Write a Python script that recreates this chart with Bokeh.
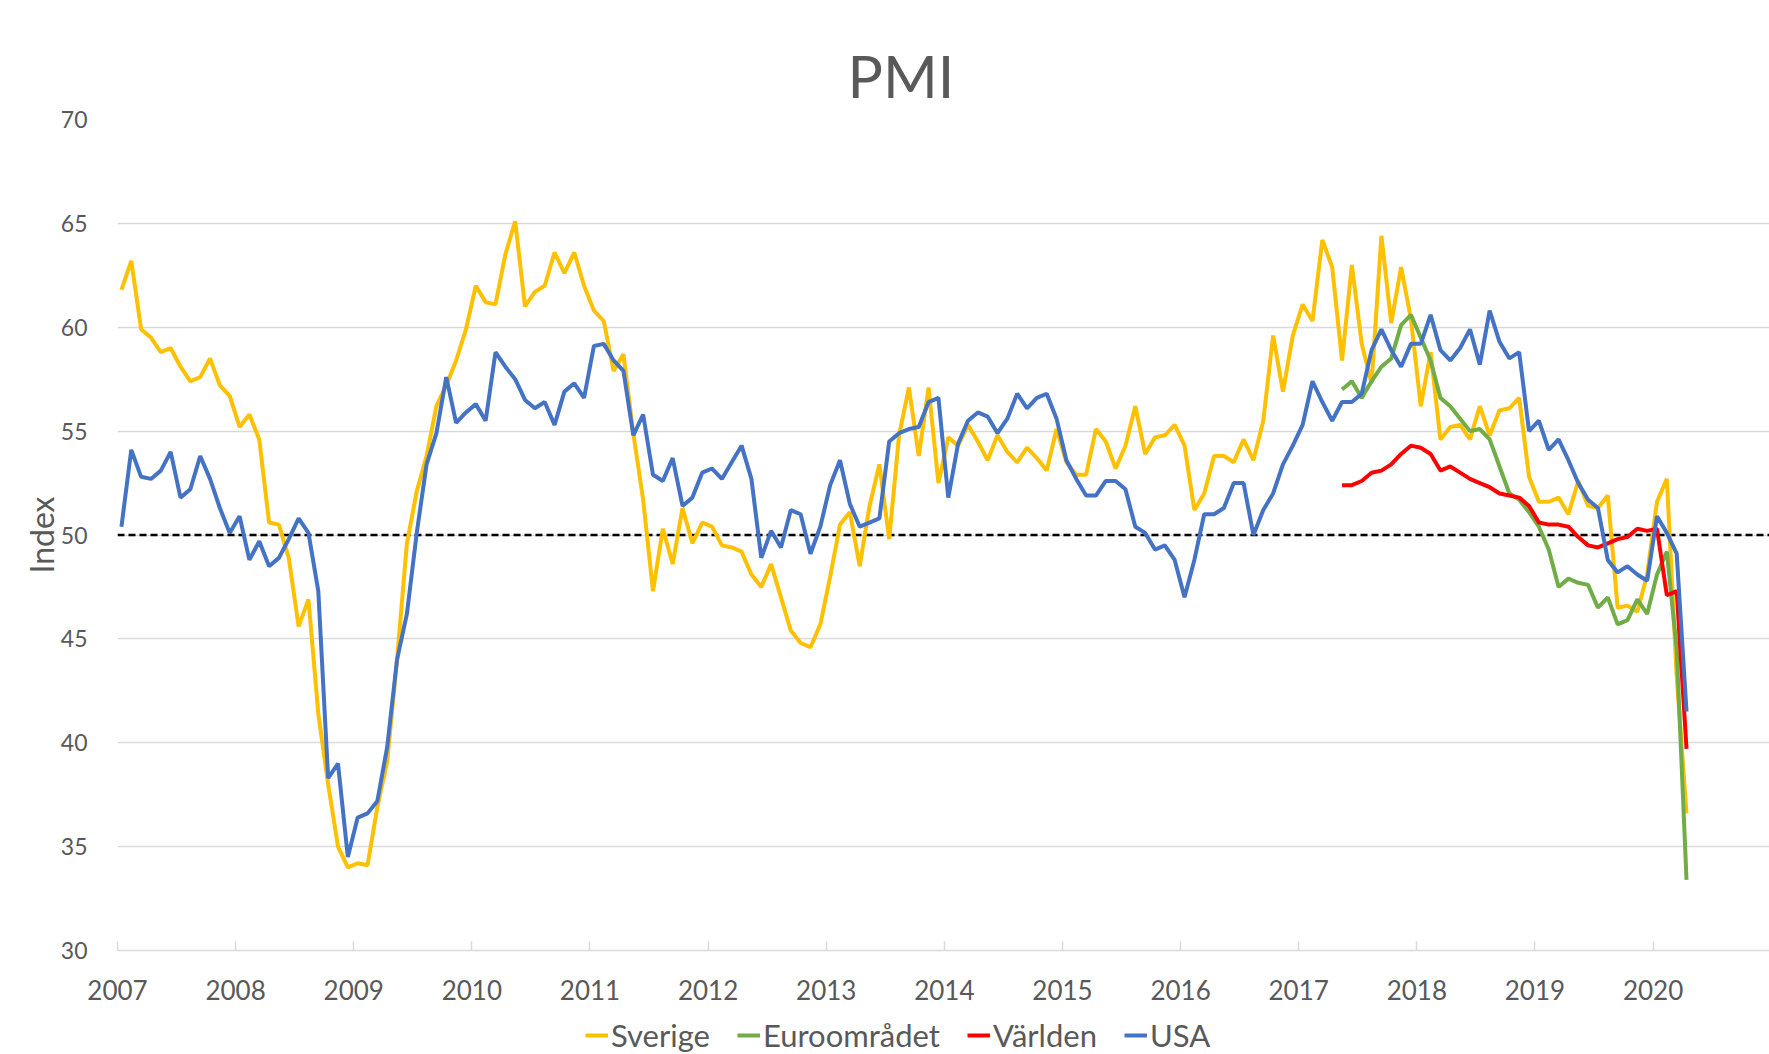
import pandas as pd
from bokeh.plotting import figure
from bokeh.layouts import column
from bokeh.models import FixedTicker, Span, Legend, LegendItem
from bokeh.embed import file_html
from bokeh.resources import INLINE

# ---- data -------------------------------------------------------------
tick_years = list(range(2007, 2021))
tick_labels = {y: str(y) for y in tick_years}
y_ticks = [30, 35, 40, 45, 50, 55, 60, 65, 70]

start_all = "2007-01"     # Sverige and USA
start_new = "2017-05"     # Euroområdet and Världen

sverige = [
    61.8, 63.2, 59.9, 59.5, 58.8, 59.0, 58.1, 57.4, 57.6, 58.5, 57.2, 56.7,
    55.2, 55.8, 54.6, 50.6, 50.5, 48.9, 45.6, 46.9, 41.4, 38.0, 35.0, 34.0,
    34.2, 34.1, 36.9, 39.1, 44.0, 49.6, 52.1, 53.8, 56.2, 57.2, 58.4, 59.9,
    62.0, 61.2, 61.1, 63.5, 65.1, 61.0, 61.7, 62.0, 63.6, 62.6, 63.6, 62.0,
    60.8, 60.3, 57.9, 58.7, 54.9, 51.7, 47.3, 50.3, 48.6, 51.3, 49.6, 50.6,
    50.4, 49.5, 49.4, 49.2, 48.1, 47.5, 48.6, 47.0, 45.4, 44.8, 44.6, 45.7,
    48.0, 50.5, 51.1, 48.5, 51.4, 53.4, 49.8, 54.8, 57.1, 53.8, 57.1, 52.5,
    54.7, 54.3, 55.3, 54.5, 53.6, 54.8, 54.0, 53.5, 54.2, 53.7, 53.1, 55.1,
    53.5, 52.9, 52.9, 55.1, 54.5, 53.2, 54.3, 56.2, 53.9, 54.7, 54.8, 55.3,
    54.3, 51.2, 52.0, 53.8, 53.8, 53.5, 54.6, 53.6, 55.5, 59.6, 56.9, 59.6,
    61.1, 60.3, 64.2, 62.9, 58.4, 63.0, 59.2, 57.3, 64.4, 60.2, 62.9, 60.4,
    56.2, 58.8, 54.6, 55.2, 55.3, 54.6, 56.2, 54.8, 56.0, 56.1, 56.6, 52.8,
    51.6, 51.6, 51.8, 51.0, 52.6, 51.4, 51.3, 51.9, 46.5, 46.6, 46.3, 48.1,
    51.6, 52.7, 43.2, 36.6,
]

usa = [
    50.4, 54.1, 52.8, 52.7, 53.1, 54.0, 51.8, 52.2, 53.8, 52.7, 51.3, 50.1,
    50.9, 48.8, 49.7, 48.5, 48.9, 49.8, 50.8, 50.1, 47.3, 38.3, 39.0, 34.5,
    36.4, 36.6, 37.2, 39.8, 44.0, 46.2, 50.1, 53.4, 54.9, 57.6, 55.4, 55.9,
    56.3, 55.5, 58.8, 58.1, 57.5, 56.5, 56.1, 56.4, 55.3, 56.9, 57.3, 56.6,
    59.1, 59.2, 58.4, 57.9, 54.8, 55.8, 52.9, 52.6, 53.7, 51.4, 51.8, 53.0,
    53.2, 52.7, 53.5, 54.3, 52.7, 48.9, 50.2, 49.4, 51.2, 51.0, 49.1, 50.4,
    52.4, 53.6, 51.5, 50.4, 50.6, 50.8, 54.5, 54.9, 55.1, 55.2, 56.4, 56.6,
    51.8, 54.4, 55.5, 55.9, 55.7, 54.9, 55.6, 56.8, 56.1, 56.6, 56.8, 55.6,
    53.6, 52.7, 51.9, 51.9, 52.6, 52.6, 52.2, 50.4, 50.1, 49.3, 49.5, 48.8,
    47.0, 48.8, 51.0, 51.0, 51.3, 52.5, 52.5, 50.0, 51.2, 52.0, 53.4, 54.3,
    55.3, 57.4, 56.4, 55.5, 56.4, 56.4, 56.8, 58.9, 59.9, 58.9, 58.1, 59.2,
    59.2, 60.6, 58.9, 58.4, 59.0, 59.9, 58.2, 60.8, 59.3, 58.5, 58.8, 55.0,
    55.5, 54.1, 54.6, 53.6, 52.5, 51.7, 51.3, 48.8, 48.2, 48.5, 48.1, 47.8,
    50.9, 50.1, 49.1, 41.5,
]

euroomradet = [
    57.0, 57.4, 56.6, 57.4, 58.1, 58.5, 60.1, 60.6,
    59.5, 58.4, 56.6, 56.2, 55.6, 55.0, 55.1, 54.6, 53.3, 52.0, 51.7, 51.1,
    50.4, 49.3, 47.5, 47.9, 47.7, 47.6, 46.5, 47.0, 45.7, 45.9, 46.9, 46.2,
    48.1, 49.2, 44.5, 33.4,
]

varlden = [
    52.4, 52.4, 52.6, 53.0, 53.1, 53.4, 53.9, 54.3,
    54.2, 53.9, 53.1, 53.3, 53.0, 52.7, 52.5, 52.3, 52.0, 51.9, 51.8, 51.4,
    50.6, 50.5, 50.5, 50.4, 49.9, 49.5, 49.4, 49.6, 49.8, 49.9, 50.3, 50.2,
    50.3, 47.1, 47.3, 39.7,
]

series = [
    ("Sverige", start_all, sverige, "#FFC000"),
    ("Euroområdet", start_new, euroomradet, "#70AD47"),
    ("Världen", start_new, varlden, "#FF0000"),
    ("USA", start_all, usa, "#4472C4"),
]


def month_x(start, n):
    d = pd.date_range(start, periods=n, freq="MS")
    return list(d.year + (d.month - 1 + 0.4) / 12.0)


# ---- main figure ------------------------------------------------------
W = 1769
H_MAIN, H_LEG = 1016, 38
LEFT, TOP, BOTTOM = 117, 119, 66
px_per_year = 118.12
FONT = "Lato"
GREY = "#595959"
LINE_GREY = "#d9d9d9"
LW = 4

p = figure(
    width=W, height=H_MAIN,
    x_range=(2007, 2007 + (W - LEFT) / px_per_year),
    y_range=(30, 70),
    output_backend="svg", toolbar_location=None,
    min_border_left=LEFT, min_border_right=0,
    min_border_top=TOP, min_border_bottom=BOTTOM,
    title="PMI",
)
p.outline_line_color = None
p.background_fill_color = "white"
p.border_fill_color = "white"

p.title.align = "left"
p.title.offset = 730
p.title.standoff = 18
p.title.text_font = FONT
p.title.text_font_size = "59px"
p.title.text_font_style = "normal"
p.title.text_color = GREY

# x axis
p.xaxis.ticker = FixedTicker(ticks=tick_years)
p.xaxis.major_label_overrides = tick_labels
p.xaxis.major_label_text_font = FONT
p.xaxis.major_label_text_font_size = "26px"
p.xaxis.major_label_text_color = GREY
p.xaxis.major_label_standoff = 29
p.xaxis.axis_line_color = LINE_GREY
p.xaxis.axis_line_width = 1.5
p.xaxis.major_tick_line_color = LINE_GREY
p.xaxis.major_tick_line_width = 1.5
p.xaxis.major_tick_in = 9
p.xaxis.major_tick_out = 0
p.xaxis.minor_tick_line_color = None

# y axis
p.yaxis.ticker = FixedTicker(ticks=y_ticks)
p.yaxis.major_label_text_font = FONT
p.yaxis.major_label_text_font_size = "23px"
p.yaxis.major_label_text_color = GREY
p.yaxis.major_label_standoff = 24
p.yaxis.axis_line_color = None
p.yaxis.major_tick_line_color = None
p.yaxis.minor_tick_line_color = None
p.yaxis.axis_label = "Index"
p.yaxis.axis_label_text_font = FONT
p.yaxis.axis_label_text_font_size = "32px"
p.yaxis.axis_label_text_font_style = "normal"
p.yaxis.axis_label_text_color = GREY
p.yaxis.axis_label_standoff = -3

p.xgrid.grid_line_color = None
p.ygrid.grid_line_color = LINE_GREY
p.ygrid.grid_line_width = 1.5

# 50-line
p.add_layout(Span(location=50, dimension="width", line_color="black",
                  line_dash="7 4", line_width=2.5, level="underlay"))

for name, start, vals, color in series:
    p.line(month_x(start, len(vals)), vals, line_color=color, line_width=LW)

# ---- legend strip (same series, outside this strip's visible range) ---
q = figure(
    width=W, height=H_LEG, x_range=(0, 1), y_range=(0, 1),
    output_backend="svg", toolbar_location=None,
    x_axis_location=None, y_axis_location=None,
    min_border=0,
)
q.outline_line_color = None
q.grid.grid_line_color = None
q.border_fill_color = "white"

items = []
for name, start, vals, color in series:
    r = q.line(month_x(start, len(vals)), vals, line_color=color, line_width=LW)
    items.append(LegendItem(label=name, renderers=[r]))

lg = Legend(items=items, location=(468, 0), orientation="horizontal")
lg.border_line_color = None
lg.background_fill_alpha = 0
lg.padding = 0
lg.margin = 0
lg.spacing = 27
lg.glyph_width = 23
lg.glyph_height = 20
lg.label_standoff = 3
lg.label_text_font = FONT
lg.label_text_font_size = "31px"
lg.label_text_color = GREY
q.add_layout(lg, "center")

layout = column(p, q, spacing=0)

open("out.html", "w").write(file_html(layout, INLINE))
